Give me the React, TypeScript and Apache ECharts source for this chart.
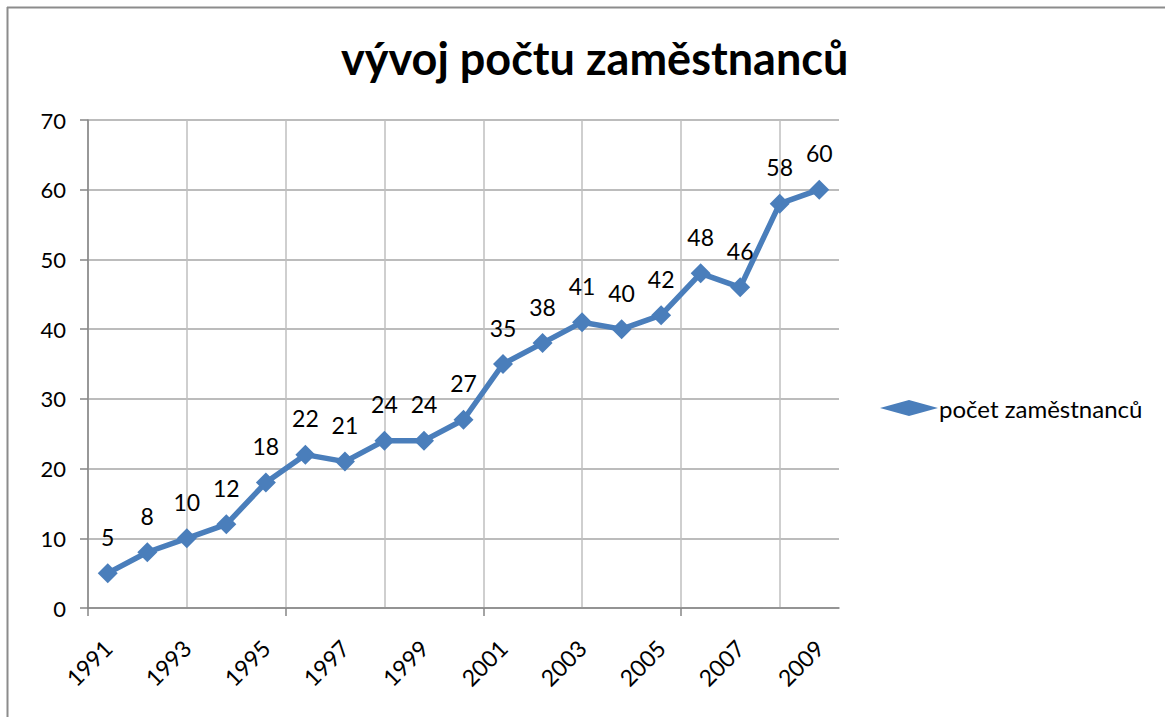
import React, { useEffect, useRef } from "react";
import * as echarts from "echarts";

const years = [
  "1991", "1992", "1993", "1994", "1995", "1996", "1997", "1998", "1999", "2000",
  "2001", "2002", "2003", "2004", "2005", "2006", "2007", "2008", "2009",
];
const employees = [5, 8, 10, 12, 18, 22, 21, 24, 24, 27, 35, 38, 41, 40, 42, 48, 46, 58, 60];
const seriesName = "počet zaměstnanců";
const titleText = "vývoj počtu zaměstnanců";

const FONT = "Lato, Carlito, 'Open Sans', sans-serif";
const BLUE = "#4a7ebb";

export default function App() {
  const ref = useRef<HTMLDivElement>(null);
  useEffect(() => {
    if (!ref.current) return;
    const chart = echarts.init(ref.current, undefined, { renderer: "svg" });
    const n = years.length;
    chart.setOption({
      animation: false,
      backgroundColor: "#ffffff",
      textStyle: { fontFamily: FONT },
      title: {
        text: titleText,
        left: 336,
        top: 30,
        textStyle: { fontFamily: FONT, fontSize: 45, fontWeight: "bold", color: "#000" },
      },
      legend: {
        left: 875,
        top: 391,
        itemWidth: 58,
        itemHeight: 16,
        itemGap: 4,
        textStyle: { fontFamily: FONT, fontSize: 24, color: "#000", padding: [0, 0, 0, -4] },
        data: [{ name: seriesName, icon: "diamond" }],
      },
      graphic: [
        { type: "line", shape: { x1: 7, y1: 7.5, x2: 1165, y2: 7.5 }, style: { stroke: "#8c8c8c", lineWidth: 2 } },
        { type: "line", shape: { x1: 7.5, y1: 7, x2: 7.5, y2: 717 }, style: { stroke: "#8c8c8c", lineWidth: 2 } },
      ],
      grid: { left: 88, right: 326, top: 120, bottom: 109, containLabel: false },
      xAxis: [
        {
          type: "category",
          data: years,
          boundaryGap: true,
          position: "bottom",
          axisLine: { show: false },
          axisTick: { show: false },
          splitLine: { show: false },
          axisLabel: {
            interval: 1,
            rotate: 45,
            margin: 36,
            fontFamily: FONT,
            fontSize: 23,
            color: "#000",
          },
        },
        {
          type: "value",
          min: 0,
          max: n,
          interval: 2.5,
          position: "bottom",
          axisLine: { show: false },
          axisTick: { show: false },
          axisLabel: { show: false },
          splitLine: { show: true, showMaxLine: false, lineStyle: { color: "#bfbfbf", width: 1.5 } },
        },
        {
          type: "value",
          min: 0,
          max: n,
          interval: 5,
          position: "bottom",
          axisLine: { show: true, lineStyle: { color: "#868686", width: 1.5 } },
          axisTick: { show: true, length: 8, customValues: [0, 5, 10, 15], lineStyle: { color: "#868686", width: 1.5 } },
          axisLabel: { show: false },
          splitLine: { show: false },
        },
      ],
      yAxis: {
        type: "value",
        min: 0,
        max: 70,
        interval: 10,
        axisLine: { show: true, lineStyle: { color: "#868686", width: 1.5 } },
        axisTick: { show: true, length: 8, lineStyle: { color: "#868686", width: 1.5 } },
        splitLine: { show: true, lineStyle: { color: "#a6a6a6", width: 1.5 } },
        axisLabel: { margin: 22, fontFamily: FONT, fontSize: 22, color: "#000" },
      },
      series: [
        {
          name: seriesName,
          type: "line",
          xAxisIndex: 0,
          data: employees,
          symbol: "diamond",
          symbolSize: 20,
          lineStyle: { color: BLUE, width: 5.5 },
          itemStyle: { color: BLUE },
          label: {
            show: true,
            position: "top",
            distance: 15,
            fontFamily: FONT,
            fontSize: 23,
            color: "#000",
          },
        },
      ],
    });
    return () => chart.dispose();
  }, []);
  return (
    <div
      ref={ref}
      style={{ position: "absolute", left: 0, top: 0, width: 1165, height: 717 }}
    />
  );
}
